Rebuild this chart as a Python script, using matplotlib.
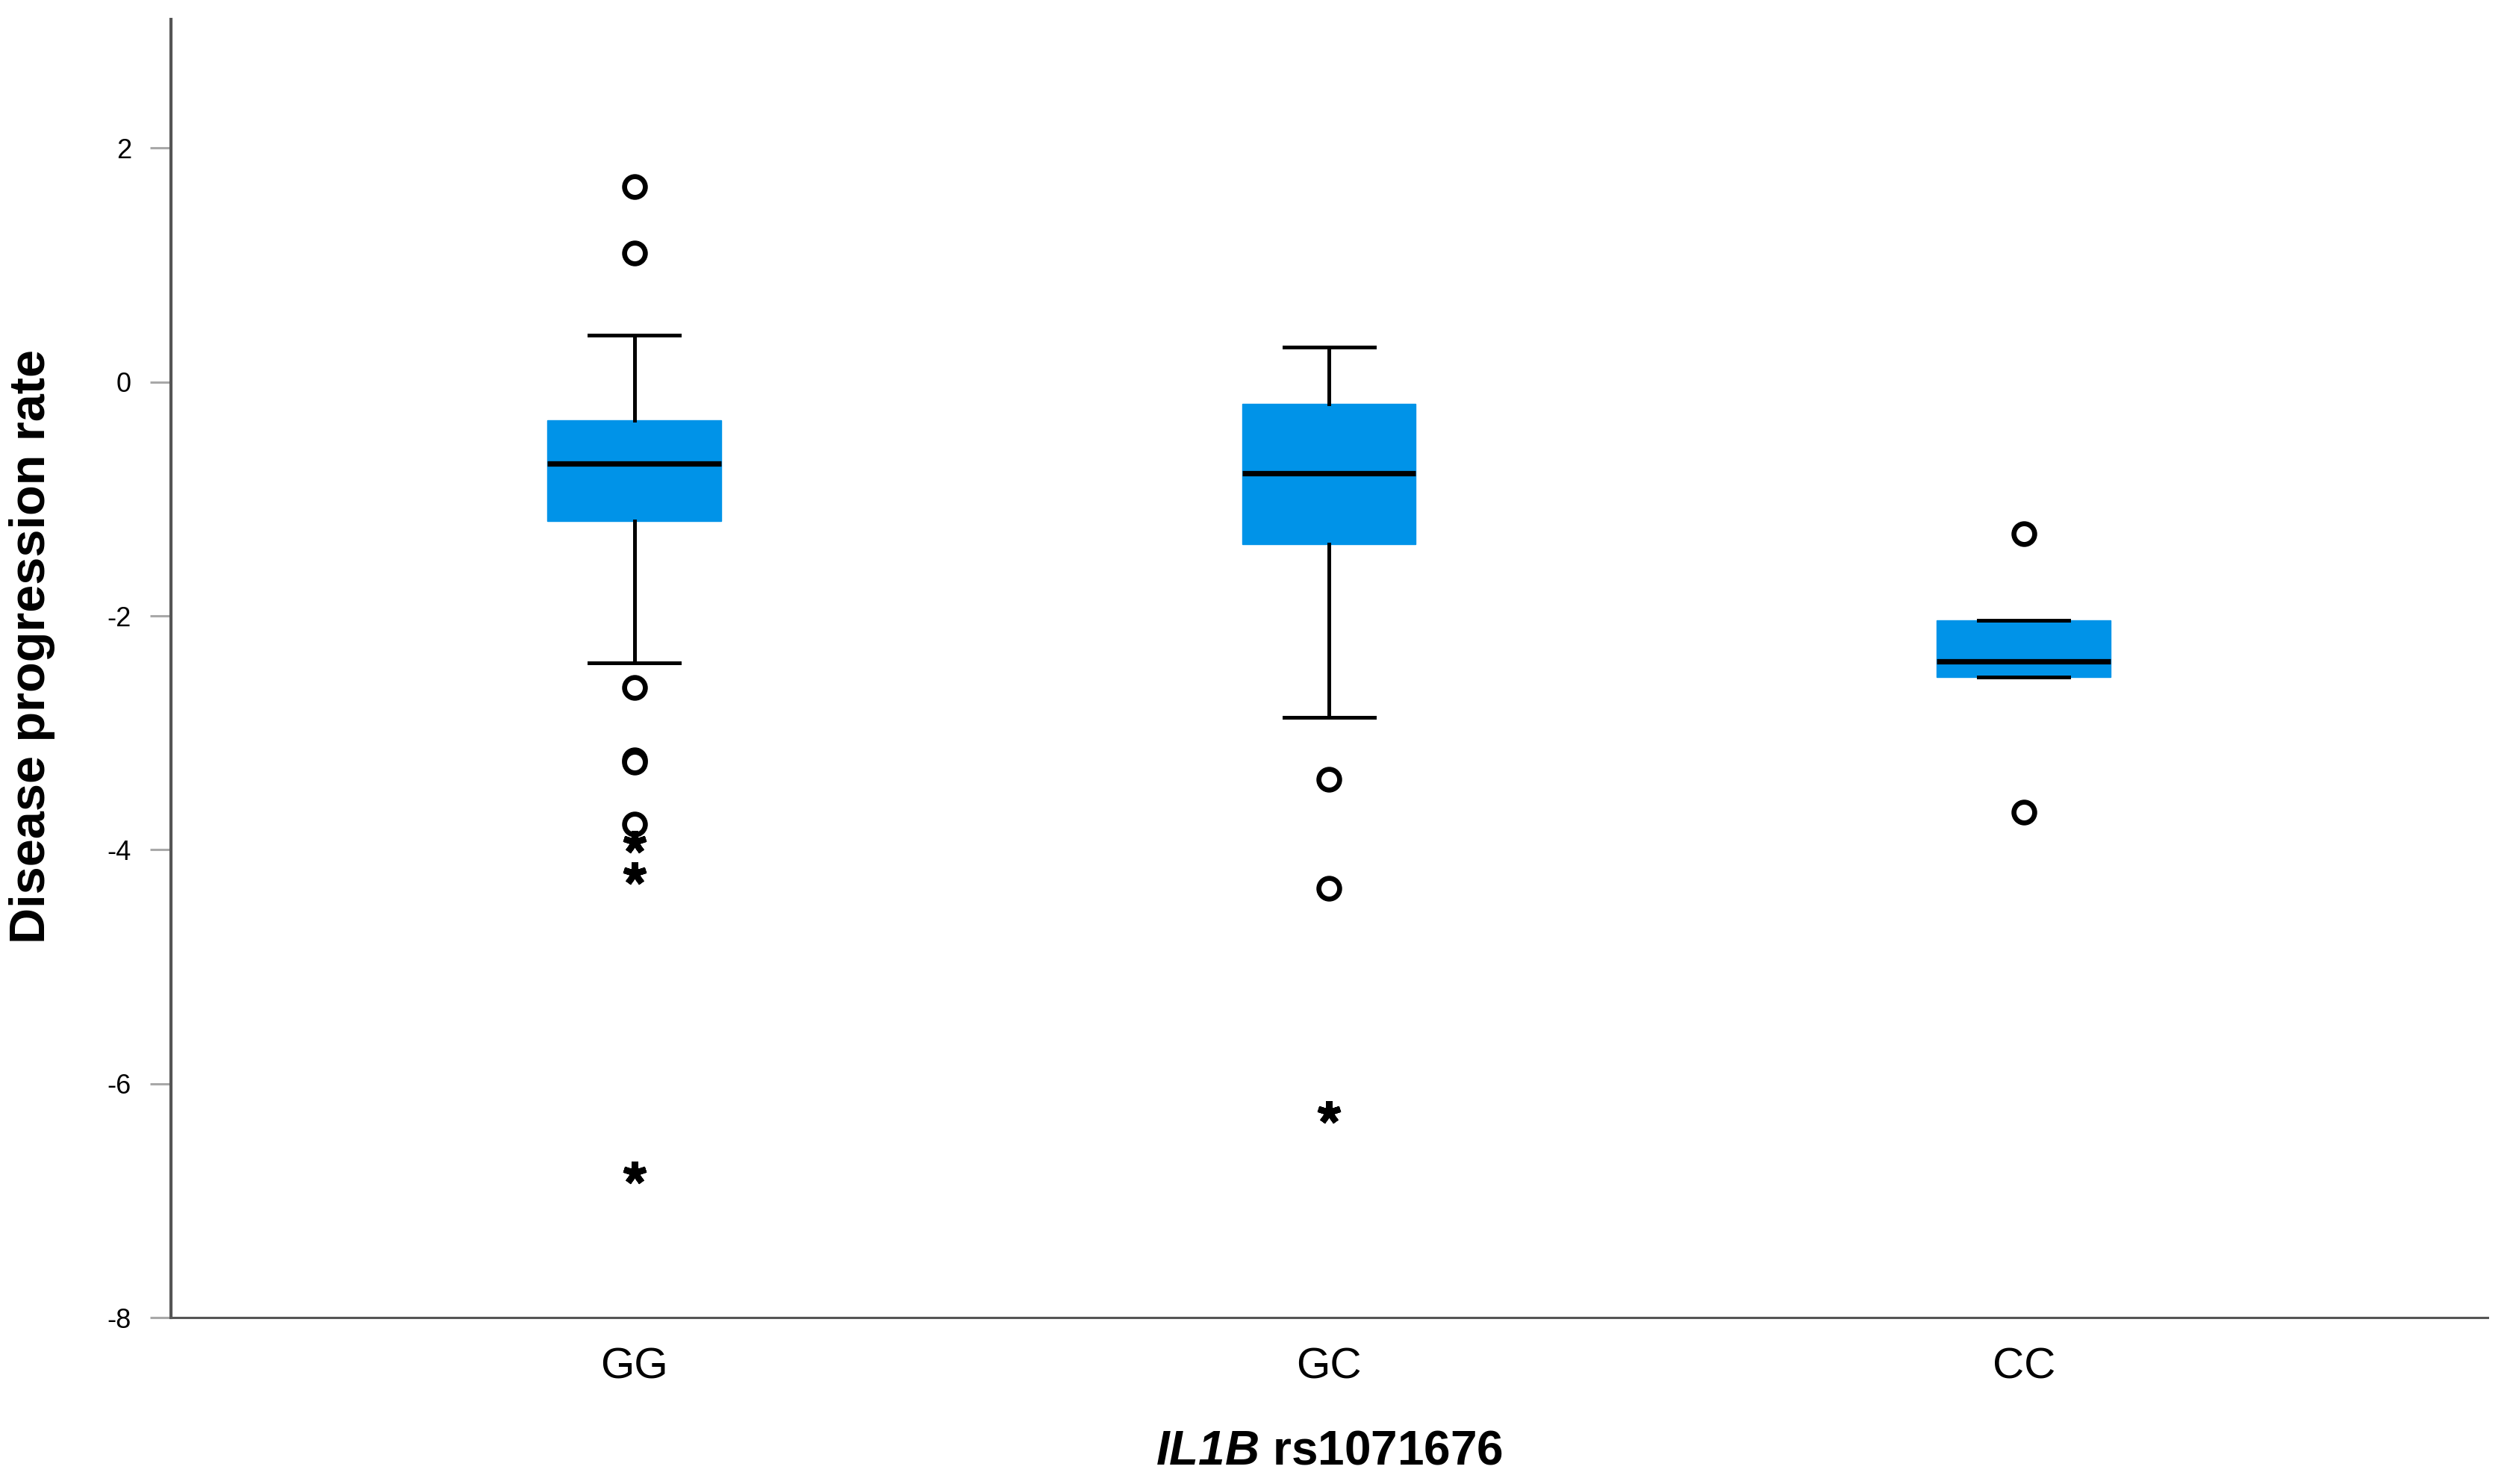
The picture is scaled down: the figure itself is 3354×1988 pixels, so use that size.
import matplotlib
matplotlib.use("Agg")
import matplotlib.pyplot as plt

plt.rcParams['font.family'] = ['Liberation Sans', 'DejaVu Sans']
plt.rcParams['mathtext.fontset'] = 'custom'
plt.rcParams['mathtext.rm'] = 'Liberation Sans:italic:bold'
plt.rcParams['mathtext.it'] = 'Liberation Sans:italic:bold'

# genotype groups
groups = ['GG', 'GC', 'CC']

# box statistics
q1 = [-1.19, -1.39, -2.52]
med = [-0.70, -0.78, -2.39]
q3 = [-0.33, -0.19, -2.04]
whislo = [-2.40, -2.87, -2.52]
whishi = [0.40, 0.30, -2.04]

# outliers (circles) and extreme values (asterisks)
outliers = [
    [1.67, 1.10, -2.61, -3.23, -3.25, -3.78],
    [-3.40, -4.33],
    [-1.30, -3.68],
]
extremes = [
    [-3.93, -4.20, -6.76],
    [-6.24],
    [],
]

yticks = [2, 0, -2, -4, -6, -8]

fig = plt.figure(figsize=(16.775, 9.94), dpi=200)
ax = fig.add_axes([0.0682, 0.112, 0.9248, 0.875])

stats = []
for i in range(len(groups)):
    stats.append(dict(label=groups[i], q1=q1[i], med=med[i], q3=q3[i],
                      whislo=whislo[i], whishi=whishi[i], fliers=[]))

pos = list(range(len(groups)))
ax.bxp(stats, positions=pos, widths=0.25, patch_artist=True, showfliers=False,
       boxprops=dict(facecolor='#0093e8', edgecolor='#0093e8', linewidth=0.5),
       medianprops=dict(color='black', linewidth=2.6),
       whiskerprops=dict(color='black', linewidth=1.8),
       capprops=dict(color='black', linewidth=1.8),
       capwidths=0.13)

for i in range(len(groups)):
    ax.plot([pos[i]] * len(outliers[i]), outliers[i], linestyle='none',
            marker='o', markersize=10, markerfacecolor='white',
            markeredgecolor='black', markeredgewidth=2.4, zorder=4)
    if extremes[i]:
        ax.plot([pos[i]] * len(extremes[i]), extremes[i], linestyle='none',
                marker=(5, 2, 0), markersize=11, color='black',
                markeredgewidth=3.0, zorder=4)

ax.set_xlim(-0.667, 2.667)
ax.set_ylim(-8, 3.1)
ax.set_yticks(yticks)
ax.set_yticklabels([str(t) for t in yticks])
ax.set_xticks(pos)
ax.set_xticklabels(groups)

ax.tick_params(axis='y', length=10, width=1.1, color='#a8a8a8', pad=9, labelsize=13)
ax.tick_params(axis='x', length=0, pad=14, labelsize=21)

for s in ['top', 'right']:
    ax.spines[s].set_visible(False)
ax.spines['left'].set_color('#555555')
ax.spines['left'].set_linewidth(1.5)
ax.spines['bottom'].set_color('#555555')
ax.spines['bottom'].set_linewidth(1.1)

ax.set_ylabel('Disease progression rate', fontsize=24, fontweight='bold')
ax.yaxis.set_label_coords(-0.05, 0.517)
ax.set_xlabel(r'$\mathrm{IL1B}$ rs1071676', fontsize=23, fontweight='bold')
ax.xaxis.set_label_coords(0.5, -0.086)

fig.savefig('out.png', dpi=200)
